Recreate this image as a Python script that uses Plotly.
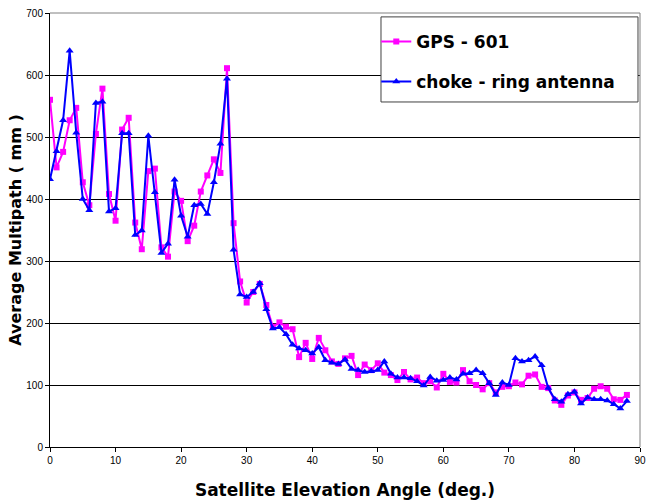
import plotly.graph_objects as go

elev = list(range(0, 89))

gps601 = [560, 451, 476, 527, 547, 427, 390, 505, 578, 408,
          365, 512, 531, 362, 319, 445, 449, 322, 307, 412,
          397, 332, 357, 412, 438, 464, 442, 611, 361, 267,
          233, 250, 263, 229, 194, 201, 194, 190, 145, 168,
          142, 176, 156, 138, 134, 143, 147, 116, 133, 124,
          135, 120, 116, 108, 121, 109, 112, 103, 106, 96,
          118, 105, 104, 124, 106, 100, 93, 103, 88, 97,
          98, 104, 101, 115, 117, 97, 95, 75, 68, 83,
          88, 76, 79, 94, 98, 94, 77, 76, 84]

choke_ring = [432, 477, 527, 639, 507, 400, 382, 555, 557, 380,
              385, 506, 506, 342, 349, 502, 411, 313, 328, 431,
              373, 339, 390, 392, 376, 427, 489, 594, 318, 246,
              242, 250, 264, 222, 191, 193, 182, 165, 159, 156,
              151, 161, 140, 136, 134, 141, 126, 124, 121, 122,
              124, 138, 118, 112, 112, 111, 106, 99, 113, 107,
              108, 112, 109, 118, 119, 124, 119, 103, 84, 104,
              100, 143, 138, 140, 146, 132, 95, 77, 73, 85,
              89, 70, 80, 77, 77, 75, 69, 62, 74]

series_names = ["GPS - 601", "choke - ring antenna"]
x_ticks = [0, 10, 20, 30, 40, 50, 60, 70, 80, 90]
y_ticks = [0, 100, 200, 300, 400, 500, 600, 700]

fig = go.Figure()
fig.add_trace(go.Scatter(
    x=elev, y=gps601, name=series_names[0], mode="lines+markers",
    line=dict(color="#FF00FF", width=2),
    marker=dict(symbol="square", size=6, color="#FF00FF"),
    legendgroup="a"))
fig.add_trace(go.Scatter(
    x=elev, y=choke_ring, name=series_names[1], mode="lines+markers",
    line=dict(color="#0000FF", width=2),
    marker=dict(symbol="triangle-up", size=7, color="#0000FF"),
    legendgroup="b"))

fig.update_layout(
    width=646, height=500,
    margin=dict(l=50, r=6, t=13, b=53, autoexpand=False),
    paper_bgcolor="white", plot_bgcolor="white",
    font=dict(family="Liberation Sans, Arial, sans-serif", color="black", size=10),
    legend=dict(
        x=0.553, y=0.975, xanchor="left", yanchor="top",
        bgcolor="rgba(0,0,0,0)", borderwidth=0,
        font=dict(family="DejaVu Sans", size=17, color="black", weight="bold"),
        traceorder="grouped", tracegroupgap=15,
        itemwidth=30,
    ),
    xaxis=dict(
        range=[0, 90], tickvals=x_ticks, ticks="outside", ticklen=4,
        tickcolor="black", showline=True, linecolor="black", linewidth=1,
        showgrid=False, zeroline=False, ticklabeloverflow="allow",
        tickfont=dict(family="Liberation Sans, Arial", size=10, color="black"),
        title=dict(text="Satellite Elevation Angle (deg.)", standoff=19,
                   font=dict(family="DejaVu Sans", size=17, color="black", weight="bold")),
    ),
    yaxis=dict(
        range=[0, 700], tickvals=y_ticks, ticks="outside", ticklen=4,
        tickcolor="black", showline=True, linecolor="black", linewidth=1,
        showgrid=True, gridcolor="black", gridwidth=1, zeroline=False,
        tickfont=dict(family="Liberation Sans, Arial", size=10, color="black"),
        title=dict(text="Average Multipath ( mm )", standoff=0,
                   font=dict(family="DejaVu Sans", size=16, color="black", weight="bold")),
    ),
)

# plot-area border (right and top) and legend frame
fig.add_shape(type="line", xref="paper", yref="paper", x0=1, x1=1, y0=0, y1=1,
              line=dict(color="#808080", width=1))
fig.add_shape(type="line", xref="paper", yref="paper", x0=0, x1=1, y0=1, y1=1,
              line=dict(color="#808080", width=1))
fig.add_shape(type="rect", xref="paper", yref="paper", x0=0.561, x1=0.9966,
              y0=0.795, y1=0.991, layer="above",
              fillcolor="white", line=dict(color="#404040", width=1))

fig.write_html("out.html",
               config={"displayModeBar": False},
               post_script="document.body.style.margin='0';document.body.style.overflow='hidden';")
